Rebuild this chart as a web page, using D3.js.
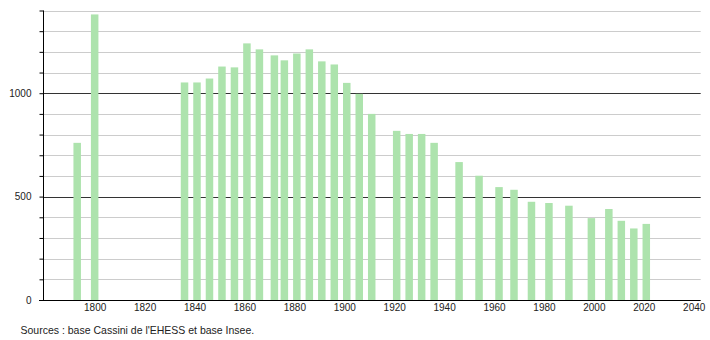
<!DOCTYPE html>
<html>
<head>
<meta charset="utf-8">
<script src="https://cdn.jsdelivr.net/npm/d3@7"></script>
<style>
  body { margin: 0; background: #fff; }
  svg text { font-family: "Liberation Sans", Arial, sans-serif; fill: #222; }
</style>
</head>
<body>
<svg id="chart"></svg>
<script>
// recensements
const years = [1793, 1800, 1836, 1841, 1846, 1851, 1856, 1861, 1866, 1872, 1876, 1881, 1886, 1891, 1896,
  1901, 1906, 1911, 1921, 1926, 1931, 1936, 1946, 1954, 1962, 1968, 1975, 1982, 1990, 1999, 2006, 2011, 2016, 2021];
const population = [760, 1381, 1052, 1052, 1071, 1129, 1125, 1241, 1212, 1183, 1159, 1192, 1212, 1154, 1139,
  1050, 997, 900, 818, 803, 803, 760, 667, 601, 546, 533, 475, 469, 456, 396, 440, 383, 346, 368];
const xTicks = [1800, 1820, 1840, 1860, 1880, 1900, 1920, 1940, 1960, 1980, 2000, 2020, 2040];
const yLabels = [0, 500, 1000];
const yGrid = d3.range(100, 1401, 100);
const source = "Sources : base Cassini de l'EHESS et base Insee.";

var width = 710, height = 340;
var svg = d3.select('#chart').attr('width', width).attr('height', height);

var x = d3.scaleLinear().domain([1779.3, 2042.8]).range([43, 700.7]);
var y = d3.scaleLinear().domain([0, 1400]).range([300, 10.5]);

var defs = svg.append('defs');
defs.append('filter').attr('id', 'soft')
  .attr('x', '-50%').attr('width', '200%')
  .append('feGaussianBlur').attr('stdDeviation', '0.5 0');

// grille
svg.append('g').selectAll('line')
  .data(yGrid)
  .enter().append('line')
  .attr('x1', 43).attr('x2', 700.7)
  .attr('y1', d => Math.round(y(d)) + 0.5).attr('y2', d => Math.round(y(d)) + 0.5)
  .attr('stroke', d => d % 500 === 0 ? '#333' : '#cccccc')
  .attr('stroke-width', 1);

// barres
var bw = 7.5;
svg.append('g').attr('filter', 'url(#soft)').selectAll('rect')
  .data(years)
  .enter().append('rect')
  .attr('x', d => x(d) - bw / 2)
  .attr('width', bw)
  .attr('y', (d, i) => y(population[i]))
  .attr('height', (d, i) => y(0) - y(population[i]))
  .attr('fill', '#ade3ad');

// axe Y
var yAxis = d3.axisLeft(y).tickValues(d3.range(0, 1401, 100)).tickSize(4)
  .tickFormat(d => yLabels.includes(d) ? d : '');
var gy = svg.append('g').attr('transform', 'translate(43.5,0)').call(yAxis);
gy.select('.domain').attr('d', 'M0,' + y(1400) + 'V' + y(0)).attr('stroke', '#000');
gy.selectAll('.tick line').attr('stroke', '#000');
gy.selectAll('.tick text').attr('x', -12).style('font-size', '10px')
  .style('font-family', '"Liberation Sans", Arial, sans-serif').attr('fill', '#222');

// axe X
var xAxis = d3.axisBottom(x).tickValues(xTicks).tickSize(0).tickFormat(d3.format('d'));
var gx = svg.append('g').attr('transform', 'translate(0,300.5)').call(xAxis);
gx.select('.domain').attr('d', 'M39,0H' + 700.7).attr('stroke', '#000');
gx.selectAll('.tick text').attr('dy', '0.75em').attr('y', 3).style('font-size', '10px')
  .style('font-family', '"Liberation Sans", Arial, sans-serif').attr('fill', '#222');

svg.append('text')
  .attr('x', 20.5).attr('y', 333.5)
  .style('font-size', '10.5px')
  .text(source);
</script>
</body>
</html>
